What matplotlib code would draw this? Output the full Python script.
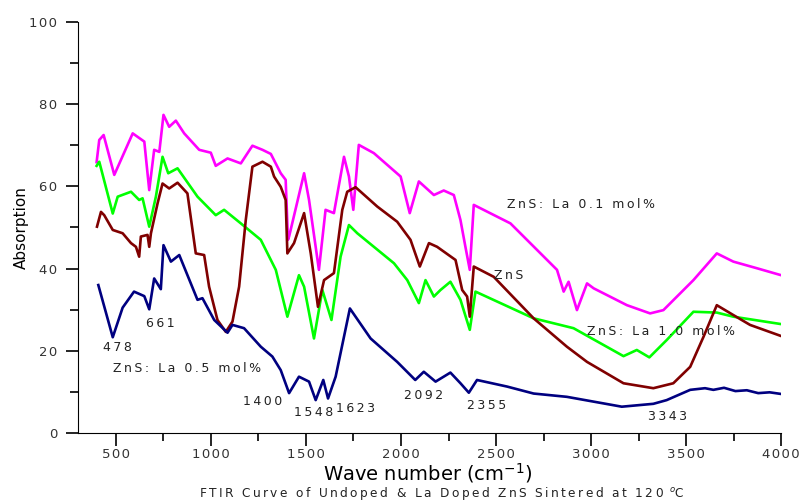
import numpy as np
import matplotlib
matplotlib.use("Agg")
import matplotlib.pyplot as plt
from matplotlib.ticker import MultipleLocator, FuncFormatter

# ZnS: La 0.5 mol% (navy)
wn_05 = [407, 483, 535, 595, 649, 675, 701, 736, 750, 789, 833, 929, 955, 1017, 1087, 1113,
         1174, 1262, 1323, 1367, 1411, 1463, 1516, 1551, 1591, 1616, 1656, 1731, 1840, 1980,
         2075, 2120, 2182, 2260, 2313, 2357, 2400, 2558, 2698, 2873, 3162, 3328, 3398, 3522,
         3600, 3644, 3700, 3760, 3820, 3880, 3940, 4000]
ab_05 = [36.0, 23.3, 30.5, 34.4, 33.3, 30.1, 37.6, 35.0, 45.7, 41.7, 43.3, 32.4, 32.8, 27.5, 24.4, 26.3,
         25.5, 21.0, 18.6, 15.3, 9.7, 13.7, 12.5, 8.0, 12.9, 8.4, 13.7, 30.3, 23.0, 17.3,
         12.9, 14.9, 12.5, 14.7, 12.1, 9.8, 12.9, 11.3, 9.6, 8.8, 6.4, 7.1, 8.0, 10.5,
         10.9, 10.5, 11.0, 10.2, 10.4, 9.7, 9.9, 9.5]

# ZnS: La 0.1 mol% (magenta)
wn_01 = [398, 412, 435, 491, 588, 649, 675, 701, 728, 750, 780, 815, 859, 938, 999, 1025,
         1087, 1157, 1218, 1271, 1315, 1367, 1393, 1405, 1411, 1490, 1516, 1568, 1603, 1647,
         1700, 1726, 1749, 1778, 1857, 1998, 2046, 2094, 2173, 2225, 2278, 2313, 2339, 2362,
         2383, 2576, 2821, 2856, 2882, 2926, 2979, 3014, 3189, 3311, 3381, 3539, 3662, 3749,
         3872, 4000]
ab_01 = [65.9, 71.3, 72.5, 62.8, 72.9, 70.9, 59.1, 68.9, 68.4, 77.4, 74.5, 76.0, 72.9, 68.9, 68.2, 65.0,
         66.8, 65.6, 69.9, 68.9, 67.9, 63.2, 61.6, 47.0, 47.8, 63.2, 56.7, 39.7, 54.3, 53.5,
         67.2, 62.4, 54.3, 70.1, 68.1, 62.4, 53.5, 61.2, 57.9, 59.0, 57.9, 51.8, 45.3, 39.7,
         55.5, 51.0, 39.7, 34.4, 36.8, 29.9, 36.4, 35.2, 31.1, 29.1, 29.9, 37.2, 43.7, 41.7,
         40.1, 38.4]

# ZnS: La 1.0 mol% (green)
wn_10 = [398, 412, 483, 509, 579, 622, 640, 675, 710, 745, 775, 824, 929, 1025, 1069, 1157,
         1262, 1341, 1402, 1463, 1490, 1542, 1586, 1634, 1682, 1726, 1770, 1963, 2033, 2094,
         2129, 2173, 2208, 2260, 2313, 2362, 2392, 2698, 2908, 3171, 3241, 3307, 3398, 3539,
         3662, 3749, 4000]
ab_10 = [65.0, 66.0, 53.4, 57.5, 58.7, 56.7, 57.1, 50.2, 57.5, 67.2, 63.2, 64.4, 57.5, 53.0, 54.3, 51.0,
         47.0, 39.7, 28.3, 38.4, 35.6, 23.0, 34.8, 27.5, 42.9, 50.6, 48.6, 41.3, 37.2, 31.6,
         37.2, 33.2, 34.8, 36.8, 32.4, 25.1, 34.4, 27.9, 25.5, 18.7, 20.2, 18.4, 22.6, 29.5,
         29.3, 28.3, 26.5]

# ZnS undoped (maroon)
wn_0 = [400, 421, 438, 483, 535, 579, 605, 622, 631, 666, 675, 684, 719, 745, 780, 824,
        876, 920, 964, 990, 1034, 1078, 1113, 1148, 1183, 1218, 1271, 1315, 1332, 1367,
        1393, 1402, 1437, 1490, 1525, 1563, 1595, 1647, 1691, 1717, 1761, 1875, 1980, 2050,
        2099, 2147, 2190, 2287, 2322, 2348, 2362, 2383, 2488, 2698, 2873, 2979, 3171, 3328,
        3433, 3522, 3592, 3662, 3749, 3837, 4000]
ab_0 = [50.2, 53.8, 53.0, 49.4, 48.6, 46.2, 45.3, 42.9, 47.8, 48.2, 45.3, 48.6, 55.9, 60.7, 59.5, 60.9,
        58.3, 43.7, 43.3, 35.6, 27.5, 24.6, 27.1, 35.6, 51.8, 64.8, 66.0, 64.8, 62.4, 59.9,
        56.7, 43.7, 46.2, 53.5, 43.7, 30.7, 37.2, 38.9, 54.3, 58.7, 59.8, 55.1, 51.4, 47.0,
        40.5, 46.2, 45.3, 42.1, 34.8, 33.2, 28.3, 40.5, 38.0, 27.9, 21.0, 17.3, 12.1, 10.9,
        12.1, 16.1, 23.4, 31.1, 28.7, 26.3, 23.6]

peak_x = [430, 658, 1166, 1437, 1656, 2015, 2348, 3302]
peak_y = [20.8, 26.7, 7.6, 4.9, 6.0, 9.2, 6.6, 4.0]
peak_lbl = ["478", "661", "1400", "1548", "1623", "2092", "2355", "3343"]

TS = "\u2009"  # thin space, to mimic the wide letter spacing
HS = "\u200a"  # hair space


def spaced(s, sep=TS):
    return sep.join(s)


fig = plt.figure(figsize=(7.99, 5.0), dpi=100)
ax = fig.add_axes([0.0976, 0.134, 0.8799, 0.822])

lw = 1.9
ax.plot(wn_01, ab_01, color="#ff00ff", lw=lw)
ax.plot(wn_10, ab_10, color="#00ff00", lw=lw)
ax.plot(wn_0, ab_0, color="#800000", lw=lw)
ax.plot(wn_05, ab_05, color="#000080", lw=lw)

ax.set_xlim(300, 4000)
ax.set_ylim(0, 100)
for s in ["top", "right"]:
    ax.spines[s].set_visible(False)
ax.xaxis.set_major_locator(MultipleLocator(500))
ax.xaxis.set_minor_locator(MultipleLocator(250))
ax.yaxis.set_major_locator(MultipleLocator(20))
ax.yaxis.set_minor_locator(MultipleLocator(10))
ax.xaxis.set_major_formatter(FuncFormatter(lambda v, p: spaced("%d" % v, HS)))
ax.yaxis.set_major_formatter(FuncFormatter(lambda v, p: spaced("%d" % v, HS)))
ax.tick_params(which="major", direction="out", length=9, width=1.2, labelsize=9.5,
               labelcolor="#333333")
ax.tick_params(axis="x", which="major", pad=2)
ax.tick_params(axis="y", which="major", pad=6)
ax.tick_params(which="minor", direction="out", length=6, width=1.2)

txt = dict(fontsize=9, color="#222222", va="center", ha="left")
for px, py, s in zip(peak_x, peak_y, peak_lbl):
    ax.text(px, py, spaced(s), **txt)
ax.text(2556, 55.7, spaced("ZnS: La 0.1 mol%"), **txt)
ax.text(2488, 38.4, spaced("ZnS"), **txt)
ax.text(2979, 24.8, spaced("ZnS: La 1.0 mol%"), **txt)
ax.text(483, 15.7, spaced("ZnS: La 0.5 mol%"), **txt)

ax.set_ylabel("Absorption", fontsize=11)
ax.yaxis.set_label_coords(-0.07, 0.5)
ax.set_xlabel("Wave number (cm$^{-1}$)", fontsize=14, va="center")
ax.xaxis.set_label_coords(0.498, -0.097)
fig.text(0.553, 0.014, spaced("FTIR Curve of Undoped & La Doped ZnS Sintered at 120 ") + "$^{o}$C",
         ha="center", va="center", fontsize=8.7, color="#222222")

fig.savefig("out.png", dpi=100)
